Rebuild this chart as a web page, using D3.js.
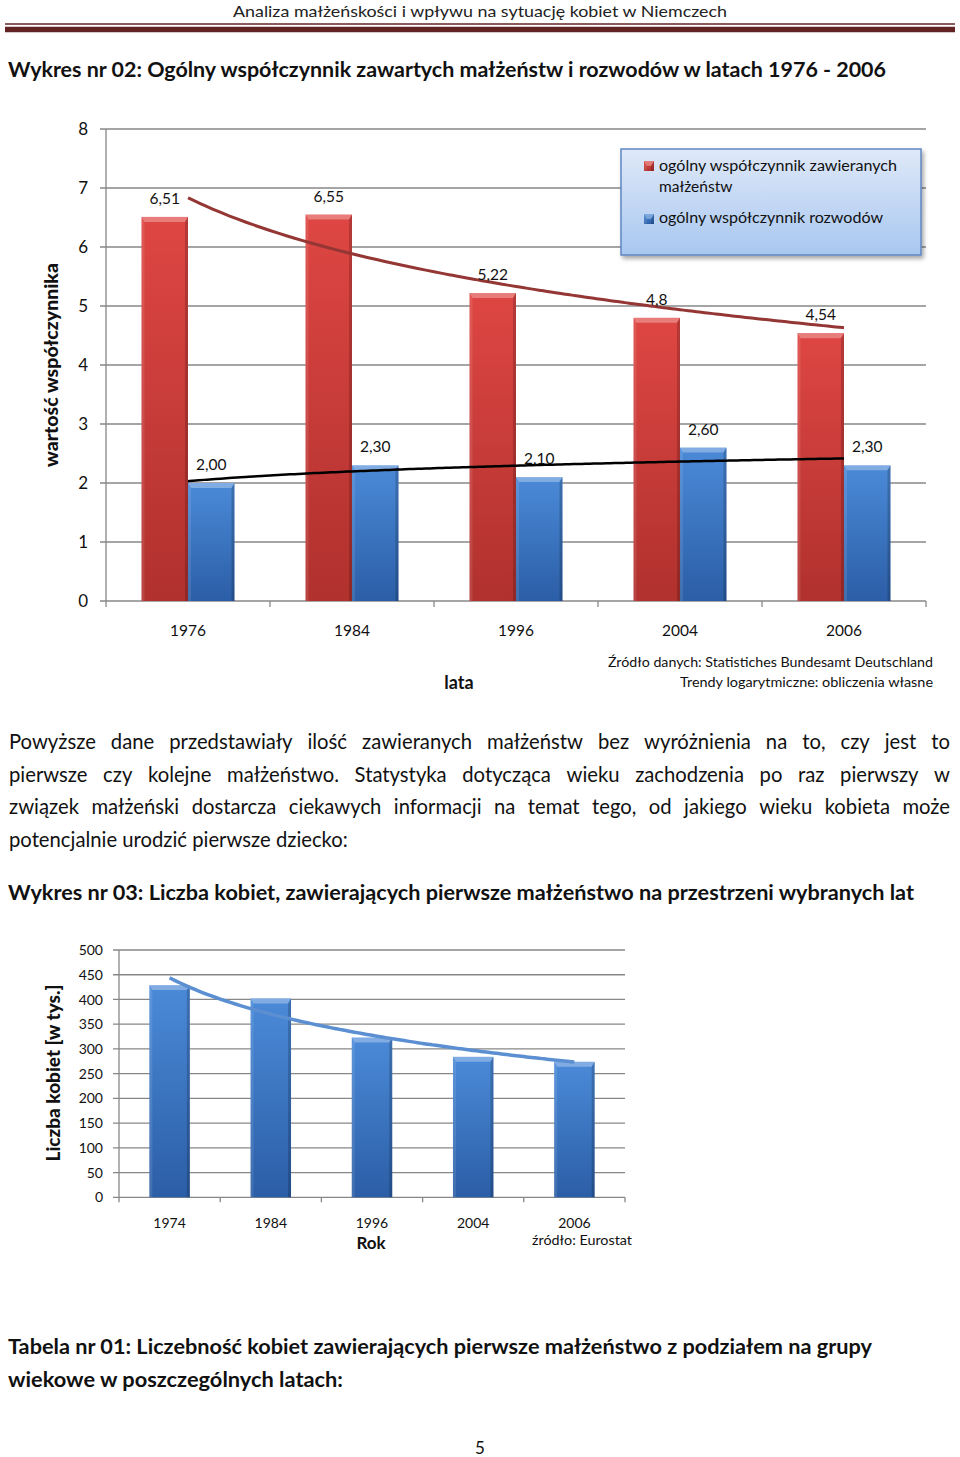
<!DOCTYPE html>
<html>
<head>
<meta charset="utf-8">
<script src="https://cdn.jsdelivr.net/npm/d3@7"></script>
<style>
  body { margin: 0; background: #fff; }
  svg { display: block; font-family: Lato, "Open Sans", sans-serif; }
</style>
</head>
<body>
<svg width="960" height="1457"></svg>
<script>
// chart 1 data
const years1 = ["1976", "1984", "1996", "2004", "2006"];
const marriageRate = [6.51, 6.55, 5.22, 4.8, 4.54];
const marriageLabels = ["6,51", "6,55", "5,22", "4,8", "4,54"];
const divorceRate = [2.00, 2.30, 2.10, 2.60, 2.30];
const divorceLabels = ["2,00", "2,30", "2,10", "2,60", "2,30"];
const yTicks1 = [0, 1, 2, 3, 4, 5, 6, 7, 8];
const seriesNames = ["ogólny współczynnik zawieranych", "ogólny współczynnik rozwodów"];

// chart 2 data
const years2 = ["1974", "1984", "1996", "2004", "2006"];
const womenFirst = [429, 402, 323, 284, 274];
const yTicks2 = [0, 50, 100, 150, 200, 250, 300, 350, 400, 450, 500];

const paragraph = [
  "Powyższe dane przedstawiały ilość zawieranych małżeństw bez wyróżnienia na to, czy jest to",
  "pierwsze czy kolejne małżeństwo. Statystyka dotycząca wieku zachodzenia po raz pierwszy w",
  "związek małżeński dostarcza ciekawych informacji na temat tego, od jakiego wieku kobieta może",
  "potencjalnie urodzić pierwsze dziecko:"
];

const svg = d3.select("svg");
const defs = svg.append("defs");
const ink = "#111";

function fit(sel, w) {
  return sel.attr("textLength", w).attr("lengthAdjust", "spacingAndGlyphs");
}

// logarithmic trend  y = a + b ln(x), x = 1..n
function logFit(vals) {
  const xs = vals.map((d, i) => Math.log(i + 1));
  const mx = d3.mean(xs), my = d3.mean(vals);
  const b = d3.sum(xs, (x, i) => (x - mx) * (vals[i] - my)) / d3.sum(xs, x => (x - mx) ** 2);
  return { a: my - b * mx, b: b };
}

function gradient(id, top, bottom) {
  const g = defs.append("linearGradient").attr("id", id)
    .attr("x1", 0).attr("y1", 0).attr("x2", 0).attr("y2", 1);
  g.append("stop").attr("offset", "0%").attr("stop-color", top);
  g.append("stop").attr("offset", "100%").attr("stop-color", bottom);
}
gradient("red", "#de4643", "#b0312e");
gradient("blue", "#4b8ad8", "#2b5ea6");
gradient("legendFill", "#dfe9f8", "#a8c7f0");

const shadow = defs.append("filter").attr("id", "shadow").attr("x", "-10%").attr("y", "-10%")
  .attr("width", "130%").attr("height", "140%");
shadow.append("feDropShadow").attr("dx", 2).attr("dy", 3).attr("stdDeviation", 2)
  .attr("flood-color", "#000").attr("flood-opacity", 0.35);

// beveled bar like the office 3d style
function bar(g, x, y, w, h, fill) {
  const b = Math.min(5, h);
  g.append("rect").attr("x", x).attr("y", y).attr("width", w).attr("height", h)
    .attr("fill", `url(#${fill})`);
  g.append("polygon")
    .attr("points", [[x, y], [x + w, y], [x + w - 3, y + b], [x + 3, y + b]].join(" "))
    .attr("fill", "#fff").attr("opacity", 0.3);
  g.append("polygon")
    .attr("points", [[x + w, y], [x + w, y + h], [x + w - 3, y + h], [x + w - 3, y + b]].join(" "))
    .attr("fill", "#000").attr("opacity", 0.18);
  g.append("polygon")
    .attr("points", [[x, y], [x + 3, y + b], [x + 3, y + h], [x, y + h]].join(" "))
    .attr("fill", "#fff").attr("opacity", 0.1);
}

// ---- page header ----
fit(svg.append("text").attr("x", 480).attr("y", 17).attr("text-anchor", "middle")
  .attr("font-size", 16).attr("fill", "#222")
  .text("Analiza małżeńskości i wpływu na sytuację kobiet w Niemczech"), 494);
svg.append("line").attr("x1", 5).attr("x2", 955).attr("y1", 24).attr("y2", 24)
  .attr("stroke", "#622423").attr("stroke-width", 1.5);
svg.append("line").attr("x1", 5).attr("x2", 955).attr("y1", 29.5).attr("y2", 29.5)
  .attr("stroke", "#622423").attr("stroke-width", 5.5);

fit(svg.append("text").attr("x", 8).attr("y", 77).attr("font-size", 21).attr("font-weight", "bold")
  .attr("fill", ink)
  .text("Wykres nr 02: Ogólny współczynnik zawartych małżeństw i rozwodów w latach 1976 - 2006"), 878);

// ---- chart 1 ----
const c1 = { left: 106, right: 926, top: 129, bottom: 601 };
const x1 = d3.scaleBand().domain(years1).range([c1.left, c1.right])
  .paddingInner(0.433).paddingOuter(0.2165);
const xs1 = d3.scaleBand().domain([0, 1]).range([0, x1.bandwidth()]);
const y1 = d3.scaleLinear().domain([0, 8]).range([c1.bottom, c1.top]);

const g1 = svg.append("g");
g1.selectAll(".grid").data(yTicks1).enter().append("line")
  .attr("x1", c1.left - 6).attr("x2", c1.right)
  .attr("y1", d => y1(d)).attr("y2", d => y1(d))
  .attr("stroke", "#878787").attr("stroke-width", 1.3);
g1.append("line").attr("x1", c1.left).attr("x2", c1.left).attr("y1", c1.top).attr("y2", c1.bottom)
  .attr("stroke", "#878787").attr("stroke-width", 1.3);
const step1 = x1.step();
g1.selectAll(".xt").data(d3.range(years1.length + 1)).enter().append("line")
  .attr("x1", i => c1.left + i * step1).attr("x2", i => c1.left + i * step1)
  .attr("y1", c1.bottom).attr("y2", c1.bottom + 6)
  .attr("stroke", "#878787").attr("stroke-width", 1.3);

g1.selectAll(".yl").data(yTicks1).enter().append("text")
  .attr("x", 88).attr("y", d => y1(d)).attr("dy", "0.36em").attr("text-anchor", "end")
  .attr("font-size", 17).attr("fill", ink).text(d => d);
g1.selectAll(".xl").data(years1).enter().append("text")
  .attr("x", d => x1(d) + x1.bandwidth() / 2).attr("y", 636).attr("text-anchor", "middle")
  .attr("font-size", 15.5).attr("fill", ink).text(d => d);

years1.forEach((yr, i) => {
  const xr = x1(yr) + xs1(0), xb = x1(yr) + xs1(1), w = xs1.bandwidth();
  bar(g1, xr, y1(marriageRate[i]), w, y1(0) - y1(marriageRate[i]), "red");
  bar(g1, xb, y1(divorceRate[i]), w, y1(0) - y1(divorceRate[i]), "blue");
});

// trend lines
function trendPath(xScale, yScale, vals) {
  const f = logFit(vals);
  const c0 = xScale(xScale.domain()[0]) + xScale.bandwidth() / 2;
  const pts = d3.range(1, vals.length + 0.001, 0.05)
    .map(t => [c0 + (t - 1) * xScale.step(), yScale(f.a + f.b * Math.log(t))]);
  return d3.line().curve(d3.curveBasis)(pts);
}
g1.append("path").attr("d", trendPath(x1, y1, marriageRate))
  .attr("fill", "none").attr("stroke", "#943634").attr("stroke-width", 3);
g1.append("path").attr("d", trendPath(x1, y1, divorceRate))
  .attr("fill", "none").attr("stroke", "#000").attr("stroke-width", 2.5);

// value labels
years1.forEach((yr, i) => {
  const w = xs1.bandwidth();
  g1.append("text").attr("x", x1(yr) + xs1(0) + w / 2).attr("y", y1(marriageRate[i]) - 13)
    .attr("text-anchor", "middle").attr("font-size", 15.5).attr("fill", ink).text(marriageLabels[i]);
  g1.append("text").attr("x", x1(yr) + xs1(1) + w / 2).attr("y", y1(divorceRate[i]) - 13)
    .attr("text-anchor", "middle").attr("font-size", 15.5).attr("fill", ink).text(divorceLabels[i]);
});

// legend
const lg = g1.append("g");
lg.append("rect").attr("x", 621).attr("y", 149).attr("width", 300).attr("height", 106)
  .attr("fill", "url(#legendFill)").attr("stroke", "#5f87c2").attr("stroke-width", 1.5)
  .attr("filter", "url(#shadow)");
bar(lg, 644, 161, 10, 10, "red");
bar(lg, 644, 214, 10, 10, "blue");
fit(lg.append("text").attr("x", 659).attr("y", 171).attr("font-size", 15.5).attr("fill", ink)
  .text(seriesNames[0]), 238);
lg.append("text").attr("x", 659).attr("y", 192).attr("font-size", 15.5).attr("fill", ink).text("małżeństw");
fit(lg.append("text").attr("x", 659).attr("y", 223).attr("font-size", 15.5).attr("fill", ink)
  .text(seriesNames[1]), 224);

// axis titles and source
fit(g1.append("text").attr("transform", "translate(52,365) rotate(-90)").attr("dy", "0.35em")
  .attr("text-anchor", "middle").attr("font-size", 18).attr("font-weight", 900).attr("fill", ink)
  .text("wartość współczynnika"), 204);
g1.append("text").attr("x", 459).attr("y", 689).attr("text-anchor", "middle")
  .attr("font-size", 18).attr("font-weight", "bold").attr("fill", ink).text("lata");
fit(g1.append("text").attr("x", 933).attr("y", 667).attr("text-anchor", "end")
  .attr("font-size", 13).attr("fill", ink).text("Źródło danych: Statistiches Bundesamt Deutschland"), 325);
fit(g1.append("text").attr("x", 933).attr("y", 687).attr("text-anchor", "end")
  .attr("font-size", 13).attr("fill", ink).text("Trendy logarytmiczne: obliczenia własne"), 253);

// ---- paragraph (justified) ----
const pLeft = 9, pRight = 950, pTop = 749, pLead = 32.5;
const probe = svg.append("text").attr("font-size", 17).text(paragraph[3]);
const pSize = 17 * 339 / probe.node().getComputedTextLength();
probe.remove();
paragraph.forEach((line, li) => {
  const yy = pTop + li * pLead;
  if (li === paragraph.length - 1) {
    svg.append("text").attr("x", pLeft).attr("y", yy).attr("font-size", pSize).attr("fill", ink).text(line);
    return;
  }
  const words = line.split(" ");
  const nodes = words.map(wd => svg.append("text").attr("y", yy).attr("font-size", pSize)
    .attr("fill", ink).text(wd));
  const widths = nodes.map(n => n.node().getComputedTextLength());
  const gap = (pRight - pLeft - d3.sum(widths)) / (words.length - 1);
  let cx = pLeft;
  nodes.forEach((n, i) => { n.attr("x", cx); cx += widths[i] + gap; });
});

fit(svg.append("text").attr("x", 8).attr("y", 900).attr("font-size", 21).attr("font-weight", "bold")
  .attr("fill", ink)
  .text("Wykres nr 03: Liczba kobiet, zawierających pierwsze małżeństwo na przestrzeni wybranych lat"), 906);

// ---- chart 2 ----
const c2 = { left: 119, right: 625, top: 950, bottom: 1197.3 };
const x2 = d3.scaleBand().domain(years2).range([c2.left, c2.right]).paddingInner(0.6).paddingOuter(0.3);
const y2 = d3.scaleLinear().domain([0, 500]).range([c2.bottom, c2.top]);
const g2 = svg.append("g");
g2.selectAll(".grid").data(yTicks2).enter().append("line")
  .attr("x1", c2.left - 6).attr("x2", c2.right)
  .attr("y1", d => y2(d)).attr("y2", d => y2(d))
  .attr("stroke", "#878787").attr("stroke-width", 1.3);
g2.append("line").attr("x1", c2.left).attr("x2", c2.left).attr("y1", c2.top).attr("y2", c2.bottom)
  .attr("stroke", "#878787").attr("stroke-width", 1.3);
g2.selectAll(".xt").data(d3.range(years2.length + 1)).enter().append("line")
  .attr("x1", i => c2.left + i * x2.step()).attr("x2", i => c2.left + i * x2.step())
  .attr("y1", c2.bottom).attr("y2", c2.bottom + 5)
  .attr("stroke", "#878787").attr("stroke-width", 1.3);
g2.selectAll(".yl").data(yTicks2).enter().append("text")
  .attr("x", 103).attr("y", d => y2(d)).attr("dy", "0.36em").attr("text-anchor", "end")
  .attr("font-size", 14).attr("fill", ink).text(d => d);
g2.selectAll(".xl").data(years2).enter().append("text")
  .attr("x", d => x2(d) + x2.bandwidth() / 2).attr("y", 1228).attr("text-anchor", "middle")
  .attr("font-size", 14).attr("fill", ink).text(d => d);
years2.forEach((yr, i) => {
  bar(g2, x2(yr), y2(womenFirst[i]), x2.bandwidth(), y2(0) - y2(womenFirst[i]), "blue");
});
g2.append("path").attr("d", trendPath(x2, y2, womenFirst))
  .attr("fill", "none").attr("stroke", "#5b8fd2").attr("stroke-width", 3.5);

fit(g2.append("text").attr("transform", "translate(54,1073) rotate(-90)").attr("dy", "0.35em")
  .attr("text-anchor", "middle").attr("font-size", 18).attr("font-weight", 900).attr("fill", ink)
  .text("Liczba kobiet [w tys.]"), 177);
g2.append("text").attr("x", 371).attr("y", 1249).attr("text-anchor", "middle")
  .attr("font-size", 17).attr("font-weight", "bold").attr("fill", ink).text("Rok");
fit(g2.append("text").attr("x", 532).attr("y", 1245).attr("font-size", 13.5).attr("fill", ink)
  .text("źródło: Eurostat"), 100);

// ---- table heading & page number ----
fit(svg.append("text").attr("x", 8).attr("y", 1354).attr("font-size", 21).attr("font-weight", "bold")
  .attr("fill", ink)
  .text("Tabela nr 01: Liczebność kobiet zawierających pierwsze małżeństwo z podziałem na grupy"), 864);
fit(svg.append("text").attr("x", 8).attr("y", 1387).attr("font-size", 21).attr("font-weight", "bold")
  .attr("fill", ink).text("wiekowe w poszczególnych latach:"), 335);
svg.append("text").attr("x", 480).attr("y", 1454).attr("text-anchor", "middle")
  .attr("font-size", 17).attr("fill", ink).text("5");
</script>
</body>
</html>
